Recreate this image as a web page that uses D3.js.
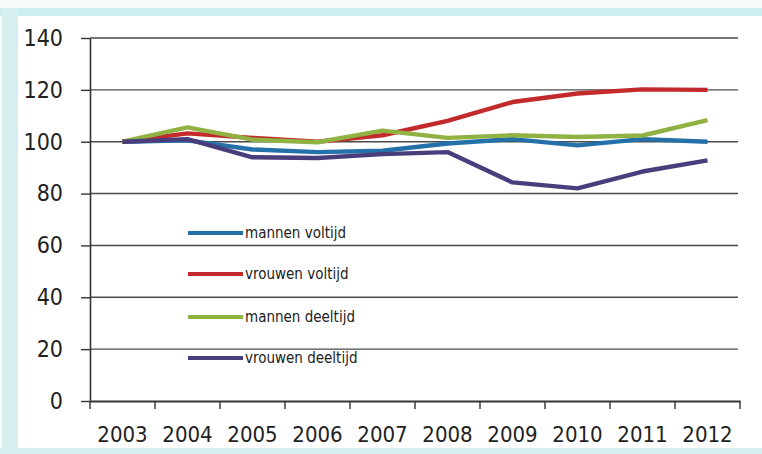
<!DOCTYPE html>
<html>
<head>
<meta charset="utf-8">
<script src="https://cdn.jsdelivr.net/npm/d3@7"></script>
<style>
  html, body { margin: 0; padding: 0; background: #fbfdfd; }
  svg { display: block; }
  .lbl { font-family: "Liberation Sans Narrow", "DejaVu Sans Condensed", "Arial Narrow", sans-serif; fill: #222; }
</style>
</head>
<body>
<svg id="chart" width="762" height="454"></svg>
<script>
const years = ["2003","2004","2005","2006","2007","2008","2009","2010","2011","2012"];
const seriesNames = ["mannen voltijd","vrouwen voltijd","mannen deeltijd","vrouwen deeltijd"];
const seriesColors = ["#2470a8","#c22a2c","#8fb243","#4a3d7c"];
const mannenVoltijd   = [100, 100.5, 97, 96, 96.5, 99.3, 101, 98.6, 101, 100];
const vrouwenVoltijd  = [100, 103.2, 101.5, 100, 102.5, 108, 115.3, 118.6, 120.2, 120];
const mannenDeeltijd  = [100, 105.5, 100.8, 99.8, 104.3, 101.5, 102.5, 101.8, 102.4, 108.3];
const vrouwenDeeltijd = [100, 101, 94, 93.7, 95.2, 96, 84.3, 82, 88.5, 92.8];
const yTicks = [0, 20, 40, 60, 80, 100, 120, 140];

const allSeries = [mannenVoltijd, vrouwenVoltijd, mannenDeeltijd, vrouwenDeeltijd];

const svg = d3.select("#chart");

// scanned-page frame
svg.append("rect").attr("x", 0).attr("y", 0).attr("width", 762).attr("height", 454).attr("fill", "#f7fbfb");
svg.append("rect").attr("x", 0).attr("y", 8).attr("width", 762).attr("height", 8).attr("fill", "#cdeef0");
svg.append("rect").attr("x", 2).attr("y", 8).attr("width", 16).attr("height", 446).attr("fill", "#d6eef0");
svg.append("rect").attr("x", 0).attr("y", 448).attr("width", 762).attr("height", 6).attr("fill", "#d6f0f2");
svg.append("rect").attr("x", 18).attr("y", 16).attr("width", 744).attr("height", 432).attr("fill", "#ffffff");

const x = d3.scaleBand().domain(years).range([90, 740]).padding(0);
const y = d3.scaleLinear().domain([0, 140]).range([401, 38]);
const cx = d => x(d) + x.bandwidth() / 2;

// gridlines
svg.append("g").selectAll("line").data(yTicks.filter(t => t > 0)).join("line")
  .attr("x1", 90).attr("x2", 738)
  .attr("y1", d => y(d)).attr("y2", d => y(d))
  .attr("stroke", "#4a4a4a").attr("stroke-width", 1.4);

// y axis
const yAxis = svg.append("g").attr("transform", "translate(90,0)")
  .call(d3.axisLeft(y).tickValues(yTicks).tickSizeInner(9).tickSizeOuter(0).tickPadding(18));
yAxis.select(".domain").attr("stroke", "#333").attr("stroke-width", 1.6);
yAxis.selectAll(".tick line").attr("stroke", "#333").attr("stroke-width", 1.4);
yAxis.selectAll("text").attr("class", "lbl").style("font-size", "23px").attr("fill", "#222");

// x axis
const xAxis = svg.append("g").attr("transform", "translate(0,401)")
  .call(d3.axisBottom(x).tickSize(0).tickPadding(25));
xAxis.select(".domain").attr("stroke", "#333").attr("stroke-width", 1.8);
xAxis.selectAll("text").attr("class", "lbl").style("font-size", "22px").attr("fill", "#222");
const bounds = years.map(d => x(d)).concat([x.range()[1]]);
xAxis.append("g").selectAll("line").data(bounds).join("line")
  .attr("x1", d => d).attr("x2", d => d).attr("y1", 0).attr("y2", 8)
  .attr("stroke", "#333").attr("stroke-width", 1.4);

// lines
const line = d3.line().x((d, i) => cx(years[i])).y(d => y(d));
svg.append("g").selectAll("path").data(allSeries).join("path")
  .attr("d", d => line(d))
  .attr("fill", "none")
  .attr("stroke", (d, i) => seriesColors[i])
  .attr("stroke-width", 4.4)
  .attr("stroke-linejoin", "round");

// legend
const legendY = [233, 274, 317, 358];
const lg = svg.append("g").selectAll("g").data(seriesNames).join("g")
  .attr("transform", (d, i) => `translate(188,${legendY[i]})`);
lg.append("line").attr("x1", 0).attr("x2", 55).attr("y1", 0).attr("y2", 0)
  .attr("stroke", (d, i) => seriesColors[i]).attr("stroke-width", 4.2);
lg.append("text").attr("class", "lbl").attr("x", 57).attr("y", 0).attr("dy", "0.35em")
  .style("font-size", "15px").attr("fill", "#333").text(d => d);
</script>
</body>
</html>
